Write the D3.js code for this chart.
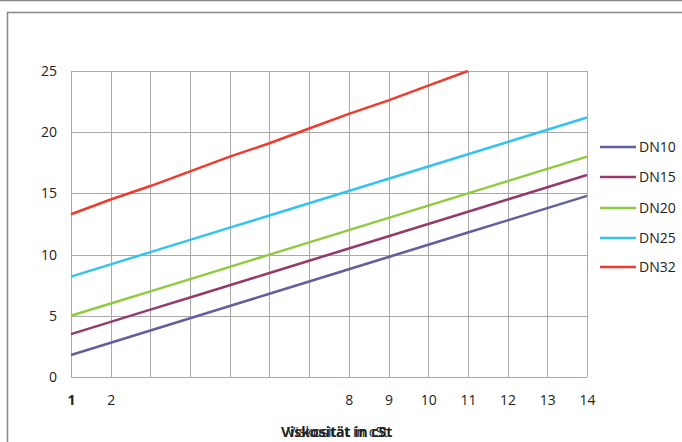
<!DOCTYPE html>
<html><head><meta charset="utf-8">
<script src="https://cdn.jsdelivr.net/npm/d3@7"></script>
<style>
html,body{margin:0;padding:0;background:#fff;}
svg{display:block;font-family:"Open Sans","Liberation Sans",sans-serif;}
</style></head>
<body>
<svg id="c" width="682" height="442"></svg>
<script>
const categories = ["1","2","3","4","5","6","7","8","9","10","11","12","13","14"];
const tickLabels = ["1","2","","","","","","8","9","10","11","12","13","14"];
const seriesNames = ["DN10","DN15","DN20","DN25","DN32"];
const dn10 = [1.8,2.8,3.8,4.8,5.8,6.8,7.8,8.8,9.8,10.8,11.8,12.8,13.8,14.8];
const dn15 = [3.5,4.5,5.5,6.5,7.5,8.5,9.5,10.5,11.5,12.5,13.5,14.5,15.5,16.5];
const dn20 = [5,6,7,8,9,10,11,12,13,14,15,16,17,18];
const dn25 = [8.2,9.2,10.2,11.2,12.2,13.2,14.2,15.2,16.2,17.2,18.2,19.2,20.2,21.2];
const dn32 = [13.3,14.5,15.6,16.8,18.0,19.1,20.3,21.5,22.6,23.8,25,null,null,null];
const yTicks = [0,5,10,15,20,25];
const colors = ["#60609e","#953a6b","#8fcb3e","#33c3f0","#f03a2e"];
const xTitle = "Viskosität in cSt";

const series = [dn10,dn15,dn20,dn25,dn32];
const svg = d3.select("#c");

// outer frame
svg.append("line").attr("x1",0).attr("x2",682).attr("y1",0.5).attr("y2",0.5).attr("stroke","#888").attr("stroke-width",1.5);
svg.append("rect").attr("x",7.5).attr("y",12.5).attr("width",700).attr("height",460)
  .attr("fill","none").attr("stroke","#888").attr("stroke-width",1.5);

const x = d3.scalePoint().domain(categories).range([71,587]);
const y = d3.scaleLinear().domain([0,25]).range([377,71]);

const g = svg.append("g");
g.selectAll(".hg").data(yTicks).join("line")
  .attr("x1",71).attr("x2",587)
  .attr("y1",d=>Math.round(y(d))+0.5).attr("y2",d=>Math.round(y(d))+0.5)
  .attr("stroke","#a9a9a9").attr("stroke-width",1);
g.selectAll(".vg").data(categories).join("line")
  .attr("x1",d=>Math.round(x(d))+0.5).attr("x2",d=>Math.round(x(d))+0.5)
  .attr("y1",71).attr("y2",377)
  .attr("stroke","#a9a9a9").attr("stroke-width",1);

const yAxis = d3.axisLeft(y).tickValues(yTicks).tickSize(0).tickPadding(0);
const ya = svg.append("g").attr("transform","translate(57,0)").call(yAxis);
ya.select(".domain").remove();
ya.selectAll("text").attr("font-size",14).attr("fill","#222").attr("font-family","Open Sans, sans-serif");

const xAxis = d3.axisBottom(x).tickFormat((d,i)=>tickLabels[i]).tickSize(0).tickPadding(0);
const xa = svg.append("g").attr("transform","translate(0,395)").call(xAxis);
xa.select(".domain").remove();
xa.selectAll("text").attr("font-size",14).attr("fill","#222").attr("font-family","Open Sans, sans-serif")
  .attr("font-weight",(d,i)=>i===0?"bold":"normal");

const line = d3.line().defined(d=>d!=null).x((d,i)=>x(categories[i])).y(d=>y(d));
series.forEach((s,k)=>{
  svg.append("path").datum(s).attr("d",line).attr("fill","none")
    .attr("stroke",colors[k]).attr("stroke-width",2.5);
});

const leg = svg.append("g");
seriesNames.forEach((n,k)=>{
  const ly = [147,177,208,238,267][k];
  leg.append("line").attr("x1",600).attr("x2",636).attr("y1",ly).attr("y2",ly)
    .attr("stroke",colors[k]).attr("stroke-width",2.5);
  leg.append("text").attr("x",639).attr("y",ly).attr("dy","0.35em")
    .attr("font-size",14).attr("fill","#222").text(n);
});

// x title: reference shows a bold and a regular copy drawn on top of each other
svg.append("text").attr("x",281).attr("y",437).attr("font-size",14).attr("font-weight","bold")
  .attr("fill","#222").text(xTitle);
svg.append("text").attr("x",287).attr("y",437).attr("font-size",14)
  .attr("fill","#222").text(xTitle);
</script>
</body></html>
